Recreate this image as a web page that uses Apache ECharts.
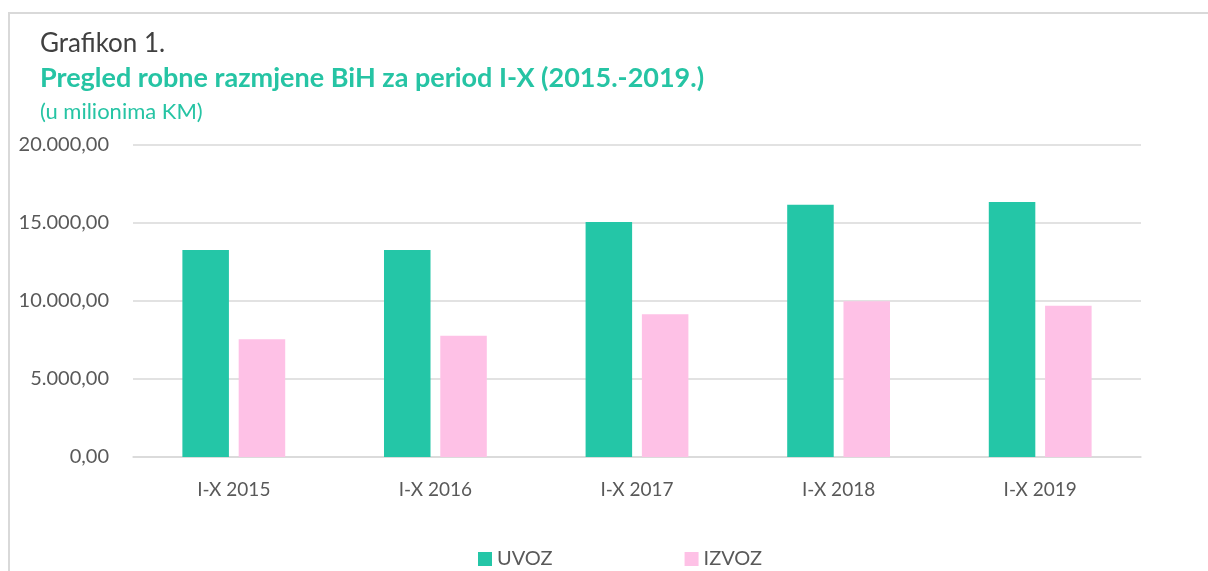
<!DOCTYPE html>
<html lang="bs">
<head>
    <meta charset="UTF-8">
    <title>Grafikon 1</title>
    <script src="https://cdn.jsdelivr.net/npm/echarts@6/dist/echarts.min.js"></script>
    <style>
        html, body { margin: 0; padding: 0; background: #fff; }
        #main { width: 1208px; height: 571px; }
    </style>
</head>
<body>
<div id="main"></div>
<script type="text/javascript">
    // podaci (u milionima KM)
    var categories = ['I-X 2015', 'I-X 2016', 'I-X 2017', 'I-X 2018', 'I-X 2019'];
    var uvoz = [13270, 13270, 15060, 16170, 16350];
    var izvoz = [7545, 7780, 9145, 9980, 9700];

    var fontFam = 'Lato, "Open Sans", sans-serif';

    function fmt(v) {
        var s = Math.round(v).toString().replace(/\B(?=(\d{3})+(?!\d))/g, '.');
        return s + ',00';
    }

    var myChart = echarts.init(document.getElementById('main'));
    var option = {
        backgroundColor: '#ffffff',
        textStyle: { fontFamily: fontFam },
        graphic: [
            {
                type: 'rect',
                shape: { x: 9, y: 13, width: 1400, height: 800 },
                style: { fill: 'none', stroke: '#d9d9d9', lineWidth: 2 },
                silent: true
            }
        ],
        title: [
            {
                text: 'Grafikon 1.',
                left: 35, top: 26,
                textStyle: { fontFamily: fontFam, fontSize: 26, fontWeight: 'normal', color: '#404040' }
            },
            {
                text: 'Pregled robne razmjene BiH za period I-X (2015.-2019.)',
                left: 35, top: 60,
                textStyle: { fontFamily: fontFam, fontSize: 27, fontWeight: 'bold', color: '#26c4a4' }
            },
            {
                text: '(u milionima KM)',
                left: 35, top: 96,
                textStyle: { fontFamily: fontFam, fontSize: 22, fontWeight: 'normal', color: '#26c4a4' }
            }
        ],
        legend: {
            data: ['UVOZ', 'IZVOZ'],
            top: 544,
            left: 473,
            itemWidth: 14,
            itemHeight: 14,
            itemGap: 132,
            icon: 'rect',
            textStyle: { fontFamily: fontFam, fontSize: 20, color: '#595959' }
        },
        grid: {
            left: 133,
            right: 67,
            top: 145,
            bottom: 114,
            containLabel: false
        },
        xAxis: {
            type: 'category',
            data: categories,
            axisTick: { show: false },
            axisLine: { show: true, lineStyle: { color: '#d9d9d9', width: 1.5 } },
            axisLabel: { fontFamily: fontFam, fontSize: 19, color: '#595959', margin: 23 }
        },
        yAxis: {
            type: 'value',
            min: 0,
            max: 20000,
            interval: 5000,
            axisLine: { show: false },
            axisTick: { show: false },
            splitLine: { lineStyle: { color: '#d9d9d9', width: 1.5 } },
            axisLabel: {
                fontFamily: fontFam, fontSize: 20, color: '#595959', margin: 24,
                formatter: fmt
            }
        },
        series: [
            {
                name: 'UVOZ',
                type: 'bar',
                data: uvoz,
                barGap: '21%',
                barCategoryGap: '49%',
                itemStyle: { color: '#24c6a7' }
            },
            {
                name: 'IZVOZ',
                type: 'bar',
                data: izvoz,
                itemStyle: { color: '#fec1e6' }
            }
        ]
    };
    myChart.setOption(option);
</script>
</body>
</html>
